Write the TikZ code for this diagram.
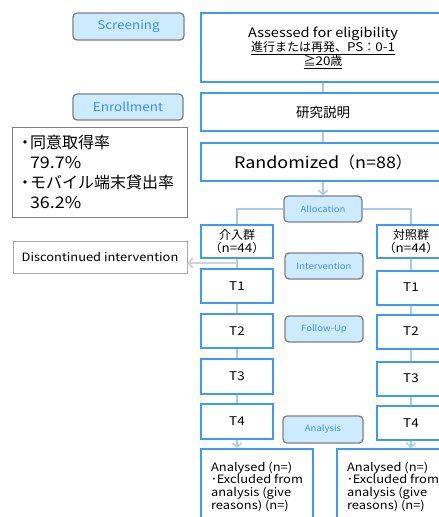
\documentclass[tikz,border=0pt]{standalone}
\usepackage{fontspec}
\setmainfont[FakeStretch=1.12]{Noto Sans CJK JP}
\newfontfamily\cjk{Noto Sans CJK JP}
\usetikzlibrary{arrows.meta}
\definecolor{bbox}{HTML}{3D9BF5}
\definecolor{lfill}{HTML}{CDEBFF}
\definecolor{ltext}{HTML}{3A8FDC}
\definecolor{conn}{HTML}{A8CBEB}
\definecolor{gborder}{HTML}{7F7F7F}
\begin{document}
\begin{tikzpicture}[x=1pt,y=-1pt,
  bluebox/.style={draw=bbox, line width=2pt, fill=white, inner sep=0pt, align=center},
  labelbox/.style={draw=gborder, line width=1.3pt, fill=lfill, rounded corners=4pt, text=ltext, inner sep=0pt},
  infobox/.style={draw=gborder, line width=1pt, fill=white, inner sep=0pt},
  conline/.style={draw=conn, line width=1.5pt},
  conarrow/.style={conline, -{Straight Barb[length=4pt,width=9pt]}},
  grayarrow/.style={draw=gray!35, line width=2pt, -{Straight Barb[length=4pt,width=10pt]}},
  lbl/.style={labelbox, font=\fontsize{12}{14}\selectfont},
  slbl/.style={labelbox, font=\fontsize{8.5}{10}\selectfont, minimum width=78pt, minimum height=26pt},
  tbox/.style={bluebox, font=\fontsize{12}{14}\selectfont},
  grp/.style={bluebox, font=\fontsize{12}{12.5}\selectfont},
  resbox/.style={bluebox, align=left, font=\fontsize{11.5}{12.7}\selectfont, minimum width=112pt, minimum height=75pt},
]
\useasboundingbox (0,0) rectangle (439,517);
\clip (0,0) rectangle (439,517);

% phase labels
\node[lbl, minimum width=111pt, minimum height=27pt] (scr) at (128.5,26.5) {Screening};
\node[lbl, minimum width=110pt, minimum height=26pt] (enr) at (128,107) {Enrollment};
\node[slbl] (alloc) at (323,209) {Allocation};
\node[slbl] (intv) at (324,266) {Intervention};
\node[slbl] (fol) at (324,329) {Follow-Up};
\node[slbl, minimum width=80pt, minimum height=27pt] (ana) at (323,429.5) {Analysis};

% main column
\node[bluebox, minimum width=244pt, minimum height=69pt] (assess) at (323,47.5)
  {\fontsize{13}{15}\selectfont Assessed for eligibility\\
   \fontsize{12}{15}\selectfont\underline{{\cjk 進行または再発、}PS{\cjk ：}0-1}\\
   \fontsize{12}{15}\selectfont\underline{{\cjk ≧}20{\cjk 歳}}};
\node[bluebox, minimum width=244pt, minimum height=38pt, font=\fontsize{13.5}{15}\selectfont] (expl) at (323,112) {\cjk 研究説明};
\node[bluebox, minimum width=244pt, minimum height=38pt, font=\fontsize{16}{18}\selectfont] (rand) at (323,162) {Randomized{\cjk （}n=88{\cjk ）}};

% info boxes
\node[infobox, minimum width=175pt, minimum height=90pt, align=left, text width=159pt, font=\fontsize{16}{20}\selectfont] (info) at (99.5,172)
  {\makebox[10pt][c]{\cjk ・}{\cjk 同意取得率}\\
   \hspace*{10pt}79.7\%\\
   \makebox[10pt][c]{\cjk ・}{\cjk モバイル端末貸出率}\\
   \hspace*{10pt}36.2\%};
\node[infobox, draw=gray!70, minimum width=174pt, minimum height=32pt, font=\fontsize{11.5}{13}\selectfont] (disc) at (100,257) {Discontinued intervention};

% intervention arm
\node[grp, minimum width=72pt, minimum height=33pt] (g1) at (237,241.5) {{\cjk 介入群}\\{\cjk （}n=44{\cjk ）}};
\node[tbox, minimum width=72pt, minimum height=34pt] (a1) at (237,286) {T1};
\node[tbox, minimum width=72pt, minimum height=34pt] (a2) at (237,331) {T2};
\node[tbox, minimum width=72pt, minimum height=35pt] (a3) at (237,376.5) {T3};
\node[tbox, minimum width=72pt, minimum height=35pt] (a4) at (237,421.5) {T4};
\node[resbox] (r1) at (257,486.5) {Analysed (n=)\\{\cjk ･}Excluded from\\analysis (give\\reasons) (n=)};

% control arm
\node[grp, minimum width=68pt, minimum height=33pt] (g2) at (411,241.5) {{\cjk 対照群}\\{\cjk （}n=44{\cjk ）}};
\node[tbox, minimum width=68pt, minimum height=34pt] (b1) at (411,287.5) {T1};
\node[tbox, minimum width=68pt, minimum height=34pt] (b2) at (411,331.5) {T2};
\node[tbox, minimum width=68pt, minimum height=34pt] (b3) at (411,378.5) {T3};
\node[tbox, minimum width=68pt, minimum height=34pt] (b4) at (411,423) {T4};
\node[resbox] (r2) at (393,486.5) {Analysed (n=)\\{\cjk ･}Excluded from\\analysis (give\\reasons) (n=)};

% connectors
\draw[conline] (assess) -- (expl);
\draw[conline] (expl) -- (rand);
\draw[conarrow] (rand) -- (alloc);
\draw[conline] (alloc.west) -| (g1.north);
\draw[conline] (alloc.east) -| (g2.north);
\draw[conline] (g1) -- (a1);
\draw[conline] (a1) -- (a2);
\draw[conline] (a2) -- (a3);
\draw[conline] (a3) -- (a4);
\draw[conarrow] (a4.south) -- (a4.south |- r1.north);
\draw[conline] (g2) -- (b1);
\draw[conline] (b1) -- (b2);
\draw[conline] (b2) -- (b3);
\draw[conline] (b3) -- (b4);
\draw[conarrow] (b4.south) -- (b4.south |- r2.north);
\coordinate (dj) at (237,263);
\draw[grayarrow] (dj) -- (dj -| disc.east);
\end{tikzpicture}
\end{document}
